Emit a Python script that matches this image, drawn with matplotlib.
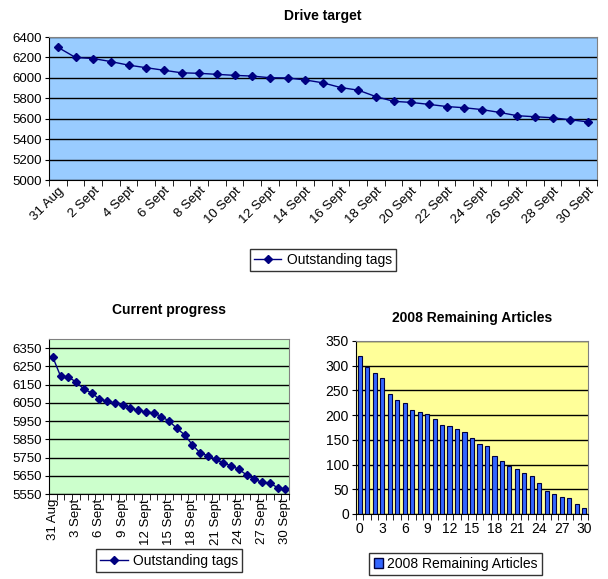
import numpy as np
import matplotlib
matplotlib.use('Agg')
import matplotlib.pyplot as plt
from matplotlib.lines import Line2D
from matplotlib.patches import Patch

plt.rcParams['font.family'] = ['Liberation Sans', 'DejaVu Sans']

# ------------------------------------------------------------------
# Data
# ------------------------------------------------------------------
days = ['31 Aug'] + [f'{d} Sept' for d in range(1, 31)]

target_tags = [6300, 6200, 6190, 6160, 6125, 6100, 6075, 6050, 6045, 6035,
               6025, 6018, 6002, 6000, 5980, 5952, 5906, 5880, 5817, 5771,
               5760, 5741, 5720, 5708, 5690, 5662, 5630, 5620, 5610, 5590,
               5570]

progress_tags = [6300, 6195, 6190, 6165, 6125, 6105, 6070, 6060, 6050, 6040,
                 6020, 6010, 6000, 5995, 5975, 5950, 5910, 5875, 5820, 5775,
                 5760, 5740, 5720, 5705, 5685, 5655, 5630, 5615, 5610, 5585,
                 5575]

remaining_articles = [320, 297, 286, 275, 243, 231, 225, 211, 206, 202,
                      193, 180, 177, 171, 165, 154, 142, 138, 118, 108,
                      98, 92, 82, 76, 63, 47, 40, 35, 32, 21, 13]

navy = '#000080'
fig = plt.figure(figsize=(6.08, 5.79), dpi=100)


def style_axes(ax, bg):
    ax.set_facecolor(bg)
    for side in ['top', 'right']:
        ax.spines[side].set_color('#808080')
    for side in ['left', 'bottom']:
        ax.spines[side].set_color('black')
    ax.grid(axis='y', color='black', linewidth=1)
    ax.set_axisbelow(True)
    ax.tick_params(axis='y', labelsize=9.5, length=3, pad=2)
    ax.tick_params(axis='x', which='major', length=0, labelsize=9.5)
    ax.tick_params(axis='x', which='minor', length=4)


def line_legend(ax, y):
    handle = Line2D([], [], color=navy, marker='D', markersize=4.5,
                    linewidth=1, label='Outstanding tags')
    ax.legend(handles=[handle], loc='center', bbox_to_anchor=(0.5, y),
              frameon=True, fancybox=False, edgecolor='black', fontsize=10,
              handlelength=2.0, handletextpad=0.4, borderpad=0.3,
              borderaxespad=0)


# ------------------------------------------------------------------
# Top: Drive target
# ------------------------------------------------------------------
ax1 = fig.add_axes([0.0806, 0.689, 0.901, 0.247])
style_axes(ax1, '#99CCFF')
x = np.arange(len(days))
ax1.plot(x, target_tags, color=navy, linewidth=1, marker='D', markersize=4.5)
ax1.set_xlim(-0.5, len(days) - 0.5)
ax1.set_ylim(5000, 6400)
ax1.set_yticks(np.arange(5000, 6401, 200))
ax1.set_xticks(x[::2])
ax1.set_xticklabels(days[::2], rotation=45, ha='right', rotation_mode='anchor')
ax1.set_xticks(np.arange(-0.5, len(days), 1), minor=True)
ax1.set_title('Drive target', fontsize=10, fontweight='bold', pad=12)
line_legend(ax1, -0.56)

# ------------------------------------------------------------------
# Bottom left: Current progress
# ------------------------------------------------------------------
ax2 = fig.add_axes([0.0806, 0.1468, 0.395, 0.2677])
style_axes(ax2, '#CCFFCC')
ax2.plot(x, progress_tags, color=navy, linewidth=1, marker='D', markersize=4.5)
ax2.set_xlim(-0.5, len(days) - 0.5)
ax2.set_ylim(5550, 6400)
ax2.set_yticks(np.arange(5550, 6351, 100))
ax2.set_xticks(x[::3])
ax2.set_xticklabels(days[::3], rotation=90)
ax2.set_xticks(np.arange(-0.5, len(days), 1), minor=True)
ax2.set_title('Current progress', fontsize=10, fontweight='bold', pad=18)
line_legend(ax2, -0.43)

# ------------------------------------------------------------------
# Bottom right: 2008 Remaining Articles
# ------------------------------------------------------------------
ax3 = fig.add_axes([0.5855, 0.1123, 0.3816, 0.2988])
style_axes(ax3, '#FFFF99')
ax3.bar(x, remaining_articles, width=0.55, color='#3366FF', edgecolor='#000040',
        linewidth=0.8)
ax3.set_xlim(-0.5, len(days) - 0.5)
ax3.set_ylim(0, 350)
ax3.set_yticks(np.arange(0, 351, 50))
ax3.set_xticks(x[::3])
ax3.set_xticks(np.arange(-0.5, len(days), 1), minor=True)
ax3.tick_params(axis='x', which='major', labelsize=10, pad=6)
ax3.tick_params(axis='y', labelsize=10)
ax3.set_title('2008 Remaining Articles', fontsize=10, fontweight='bold', pad=14)
ax3.legend(handles=[Patch(facecolor='#3366FF', edgecolor='#000040',
                          label='2008 Remaining Articles')],
           loc='center', bbox_to_anchor=(0.43, -0.29), frameon=True, fancybox=False,
           edgecolor='black', fontsize=10, handlelength=0.7, handleheight=0.7,
           handletextpad=0.3, borderpad=0.3, borderaxespad=0)

fig.savefig('out.png', dpi=100)
